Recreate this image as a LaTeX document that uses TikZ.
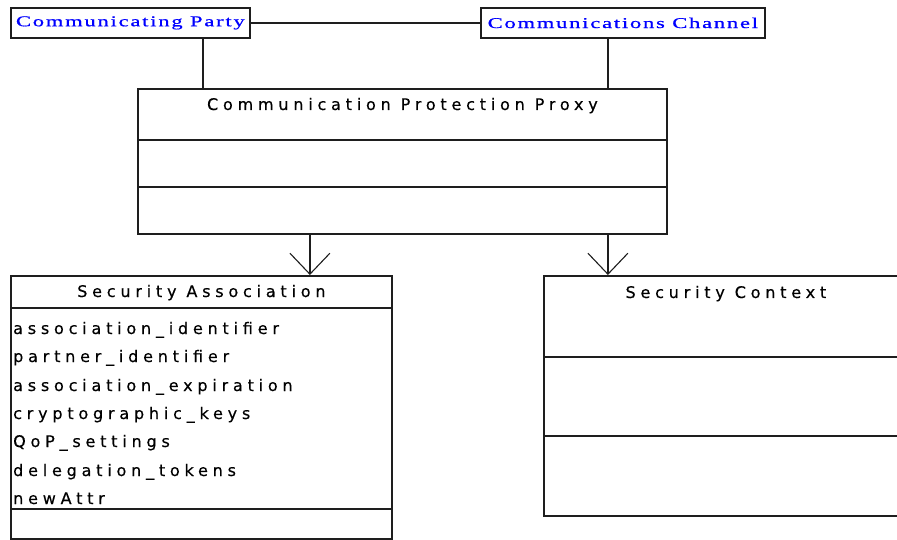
\documentclass[tikz,border=0pt]{standalone}
\usepackage{fontspec}
\usetikzlibrary{arrows.meta}
\newfontfamily\umlfont{DejaVu Sans}[LetterSpace=30, FakeBold=0.4]
\newfontfamily\linkfont{Liberation Serif}[FakeStretch=1.5, LetterSpace=12, FakeBold=0.8]
\definecolor{linkblue}{RGB}{0,0,255}
\definecolor{inkline}{RGB}{30,30,30}

\tikzset{
  box/.style={draw=inkline, line width=1.8pt, inner sep=0pt, anchor=north west},
  sep/.style={draw=inkline, line width=1.7pt},
  wire/.style={draw=inkline, line width=1.5pt},
  uses/.style={wire, -{Straight Barb[length=21pt,width=40pt,line width=1.1pt]}},
  linktext/.style={inner sep=0pt, text=linkblue, font=\linkfont\fontsize{15}{17}\selectfont},
  title/.style={inner sep=0pt, text height=11pt, text depth=3pt, font=\umlfont\fontsize{16}{18}\selectfont},
  attr/.style={title, anchor=west},
}

\begin{document}
\begin{tikzpicture}[x=1pt, y=-1pt]
\useasboundingbox (0,0) rectangle (897,540);
\clip (0,0) rectangle (897,540);

% linked elements at the top
\node[box, minimum width=239pt, minimum height=30pt] (party) at (10,7) {};
\node[linktext] (partytext) at (party.center) {Communicating Party};
\node[box, minimum width=284pt, minimum height=30pt] (channel) at (480,7) {};
\node[linktext] (channeltext) at (channel.center) {Communications Channel};

% proxy class
\node[box, minimum width=529pt, minimum height=145pt] (proxy) at (137,88) {};
\draw[sep] ([yshift=-52pt]proxy.north west) -- ([yshift=-52pt]proxy.north east);
\draw[sep] ([yshift=-99pt]proxy.north west) -- ([yshift=-99pt]proxy.north east);
\node[title] (proxytitle) at ([yshift=-18pt]proxy.north) {Communication Protection Proxy};

% security association class
\node[box, minimum width=381pt, minimum height=263pt] (sa) at (10,275) {};
\draw[sep] ([yshift=-33pt]sa.north west) -- ([yshift=-33pt]sa.north east);
\draw[sep] ([yshift=-234pt]sa.north west) -- ([yshift=-234pt]sa.north east);
\node[title] (satitle) at ([yshift=-18pt]sa.north) {Security Association};
\node[attr] (a1) at (13,330) {association\_identifier};
\node[attr] (a2) at (13,358) {partner\_identifier};
\node[attr] (a3) at (13,387) {association\_expiration};
\node[attr] (a4) at (13,415) {cryptographic\_keys};
\node[attr] (a5) at (13,443) {QoP\_settings};
\node[attr] (a6) at (13,472) {delegation\_tokens};
\node[attr] (a7) at (13,500) {newAttr};

% security context class
\node[box, minimum width=364pt, minimum height=240pt] (sc) at (543,275) {};
\draw[sep] ([yshift=-82pt]sc.north west) -- ([yshift=-82pt]sc.north east);
\draw[sep] ([yshift=-161pt]sc.north west) -- ([yshift=-161pt]sc.north east);
\node[title] (sctitle) at ([yshift=-19pt]sc.north) {Security Context};

% connectors
\draw[wire] (party.east) -- (channel.west);
\draw[wire] ([xshift=72.5pt]party.south) -- ([xshift=72.5pt]party.south |- proxy.north);
\draw[wire] ([xshift=-15pt]channel.south) -- ([xshift=-15pt]channel.south |- proxy.north);
\draw[uses] ([xshift=108.5pt]sa.north |- proxy.south) -- ([xshift=108.5pt]sa.north);
\draw[uses] ([xshift=-118pt]sc.north |- proxy.south) -- ([xshift=-118pt]sc.north);
\end{tikzpicture}
\end{document}
